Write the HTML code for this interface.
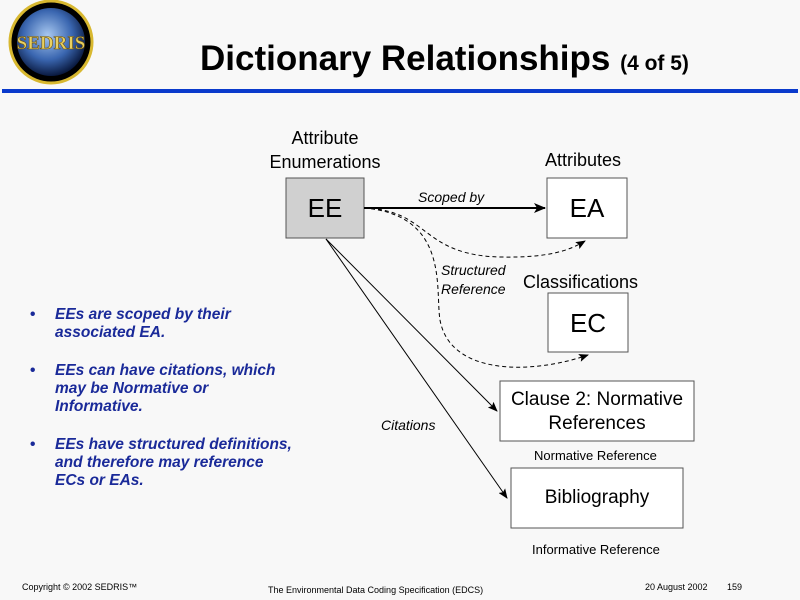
<!DOCTYPE html>
<html><head><meta charset="utf-8"><style>
body{margin:0;width:800px;height:600px;background:#f8f8f8;font-family:"Liberation Sans",Arial,sans-serif;position:relative;overflow:hidden}
.a{position:absolute;white-space:nowrap}
.b{position:relative;padding-left:25px}
.b:before{content:"•";position:absolute;left:0;top:0;font-style:normal}
</style></head><body>
<svg width="800" height="600" style="position:absolute;left:0;top:0">
<defs>
<radialGradient id="g" cx="45%" cy="40%" r="60%"><stop offset="0" stop-color="#a8c8f0"/><stop offset="0.6" stop-color="#3a66b0"/><stop offset="1" stop-color="#0a1a40"/></radialGradient>
<marker id="ar" markerWidth="12" markerHeight="10" refX="11" refY="5" orient="auto" markerUnits="userSpaceOnUse"><path d="M0,0 L12,5 L0,10 L3,5z" fill="#000"/></marker>
<marker id="as" markerWidth="10" markerHeight="8" refX="9" refY="4" orient="auto" markerUnits="userSpaceOnUse"><path d="M0,0 L10,4 L0,8 L2,4z" fill="#000"/></marker>
</defs>
<circle cx="51" cy="42" r="41" fill="#000" stroke="#d8b830" stroke-width="3"/>
<circle cx="51" cy="42" r="34" fill="url(#g)"/>
<text x="51" y="49" font-family="Liberation Serif" font-weight="bold" font-size="19" fill="#e8d060" stroke="#6a5010" stroke-width="0.6" text-anchor="middle">SEDRIS</text>
<rect x="2" y="89" width="796" height="4" fill="#0a3acc"/>
<rect x="286" y="178" width="78" height="60" fill="#d0d0d0" stroke="#555"/>
<rect x="547" y="178" width="80" height="60" fill="#fff" stroke="#555"/>
<rect x="548" y="293" width="80" height="59" fill="#fff" stroke="#555"/>
<rect x="500" y="381" width="194" height="60" fill="#fff" stroke="#555"/>
<rect x="511" y="468" width="172" height="60" fill="#fff" stroke="#555"/>
<line x1="364" y1="208" x2="545" y2="208" stroke="#000" stroke-width="2" marker-end="url(#ar)"/>
<path d="M364,208 C430,210 420,255 500,257 C550,258 570,250 585,241" fill="none" stroke="#000" stroke-dasharray="4,3" marker-end="url(#as)"/>
<path d="M364,208 C450,215 435,290 440,320 C450,375 530,375 588,355" fill="none" stroke="#000" stroke-dasharray="4,3" marker-end="url(#as)"/>
<line x1="326" y1="239" x2="497" y2="411" stroke="#000" marker-end="url(#as)"/>
<line x1="326" y1="239" x2="507" y2="498" stroke="#000" marker-end="url(#as)"/>
</svg>
<div class="a" style="left:200px;top:39px;font-size:35px;font-weight:bold">Dictionary Relationships <span style="font-size:21px">(4 of 5)</span></div>
<div class="a" style="left:264px;top:126px;font-size:18px;text-align:center;width:122px;line-height:24px">Attribute<br>Enumerations</div>
<div class="a" style="left:545px;top:150px;font-size:18px">Attributes</div>
<div class="a" style="left:523px;top:272px;font-size:18px">Classifications</div>
<div class="a" style="left:286px;top:193px;width:78px;text-align:center;font-size:26px">EE</div>
<div class="a" style="left:547px;top:193px;width:80px;text-align:center;font-size:26px">EA</div>
<div class="a" style="left:548px;top:308px;width:80px;text-align:center;font-size:26px">EC</div>
<div class="a" style="left:500px;top:388px;width:194px;text-align:center;font-size:19px;line-height:24px">Clause 2: Normative<br>References</div>
<div class="a" style="left:511px;top:487px;width:172px;text-align:center;font-size:19px">Bibliography</div>
<div class="a" style="left:418px;top:189px;font-size:14px;font-style:italic">Scoped by</div>
<div class="a" style="left:441px;top:261px;font-size:14px;font-style:italic;line-height:19px">Structured<br>Reference</div>
<div class="a" style="left:381px;top:417px;font-size:14px;font-style:italic">Citations</div>
<div class="a" style="left:534px;top:448px;font-size:13px">Normative Reference</div>
<div class="a" style="left:532px;top:542px;font-size:13px">Informative Reference</div>
<div class="a" style="left:30px;top:306px;font-size:15.5px;font-weight:bold;font-style:italic;color:#1a2a99;line-height:18px">
<div class="b">EEs are scoped by their<br>associated EA.</div>
<div class="b" style="margin-top:20px">EEs can have citations, which<br>may be Normative or<br>Informative.</div>
<div class="b" style="margin-top:20px">EEs have structured definitions,<br>and therefore may reference<br>ECs or EAs.</div>
</div>
<div class="a" style="left:22px;top:582px;font-size:9px">Copyright © 2002 SEDRIS™</div>
<div class="a" style="left:268px;top:585px;font-size:9px">The Environmental Data Coding Specification (EDCS)</div>
<div class="a" style="left:645px;top:582px;font-size:9px">20 August 2002</div>
<div class="a" style="left:727px;top:582px;font-size:9px">159</div>
</body></html>
